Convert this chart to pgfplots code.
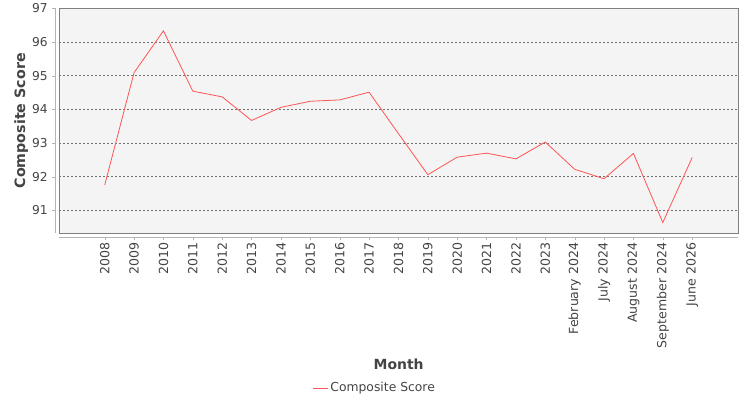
\documentclass[border=0pt]{standalone}
\usepackage{pgfplots}
\pgfplotsset{compat=1.18}
\usepackage{fontspec}
\setmainfont{DejaVu Sans}

\definecolor{plotbg}{HTML}{F4F4F4}
\definecolor{frame}{HTML}{808080}
\definecolor{axline}{HTML}{B4B4B4}
\definecolor{gridc}{HTML}{707070}
\definecolor{txt}{HTML}{444444}
\definecolor{series}{HTML}{FF5555}

\pgfplotstableread{
idx score
0 91.75
1 95.09
2 96.33
3 94.54
4 94.37
5 93.67
6 94.06
7 94.24
8 94.28
9 94.51
10 93.28
11 92.06
12 92.58
13 92.70
14 92.53
15 93.03
16 92.22
17 91.94
18 92.69
19 90.64
20 92.57
}\scoretable

\begin{document}
\begin{tikzpicture}
\useasboundingbox (0,0) rectangle (750bp,400bp);
\begin{axis}[
  at={(59.3bp,166.7bp)}, anchor=south west,
  scale only axis,
  width=678.7bp, height=225bp,
  xmin=-1.545, xmax=21.56,
  ymin=90.32, ymax=97,
  xtick=data,
  xticklabels={2008,2009,2010,2011,2012,2013,2014,2015,2016,2017,2018,2019,2020,2021,2022,2023,February 2024,July 2024,August 2024,September 2024,June 2026},
  ytick={91,92,93,94,95,96,97},
  /pgf/number format/assume math mode=true,
  tick pos=left,
  tick align=outside,
  major tick length=3bp,
  xtick style={axline, yshift=-4bp},
  ytick style={axline, xshift=-4bp},
  % after rotate=90 an xshift moves the label down the page
  xticklabel style={rotate=90, anchor=east, xshift=-3bp, font=\fontsize{12.6}{14}\selectfont, text=txt},
  yticklabel style={font=\fontsize{12.3}{14}\selectfont, text=txt, xshift=-5bp},
  axis background/.style={fill=plotbg},
  axis line style={frame},
  ymajorgrids,
  grid style={gridc, dash pattern=on 2bp off 2bp, line width=0.6bp},
  xlabel={\textbf{Month}},
  ylabel={\textbf{Composite Score}},
  xlabel style={at={(axis description cs:0.5,0)}, anchor=center, yshift=-131bp, font=\fontsize{14}{16}\selectfont, text=txt},
  ylabel style={at={([xshift=-38bp]axis description cs:0,0.5)}, anchor=center, font=\fontsize{14.3}{16}\selectfont, text=txt},
  legend style={at={(axis description cs:0.4648,-0.6876)}, anchor=center, draw=none, fill=none,
    font=\fontsize{12.4}{14}\selectfont, text=txt},
  legend image code/.code={\draw[#1] (0bp,0bp) -- (15bp,0bp);},
  clip=false,
]
\addplot[series, line width=0.8bp] table[x=idx, y=score] {\scoretable};
\addlegendentry{Composite Score}
\draw[axline, line width=0.8bp] ([yshift=-4bp]rel axis cs:0,0) -- ([yshift=-4bp]rel axis cs:1,0);
\draw[axline, line width=0.8bp] ([xshift=-4bp]rel axis cs:0,0) -- ([xshift=-4bp]rel axis cs:0,1);
\end{axis}
\end{tikzpicture}
\end{document}
